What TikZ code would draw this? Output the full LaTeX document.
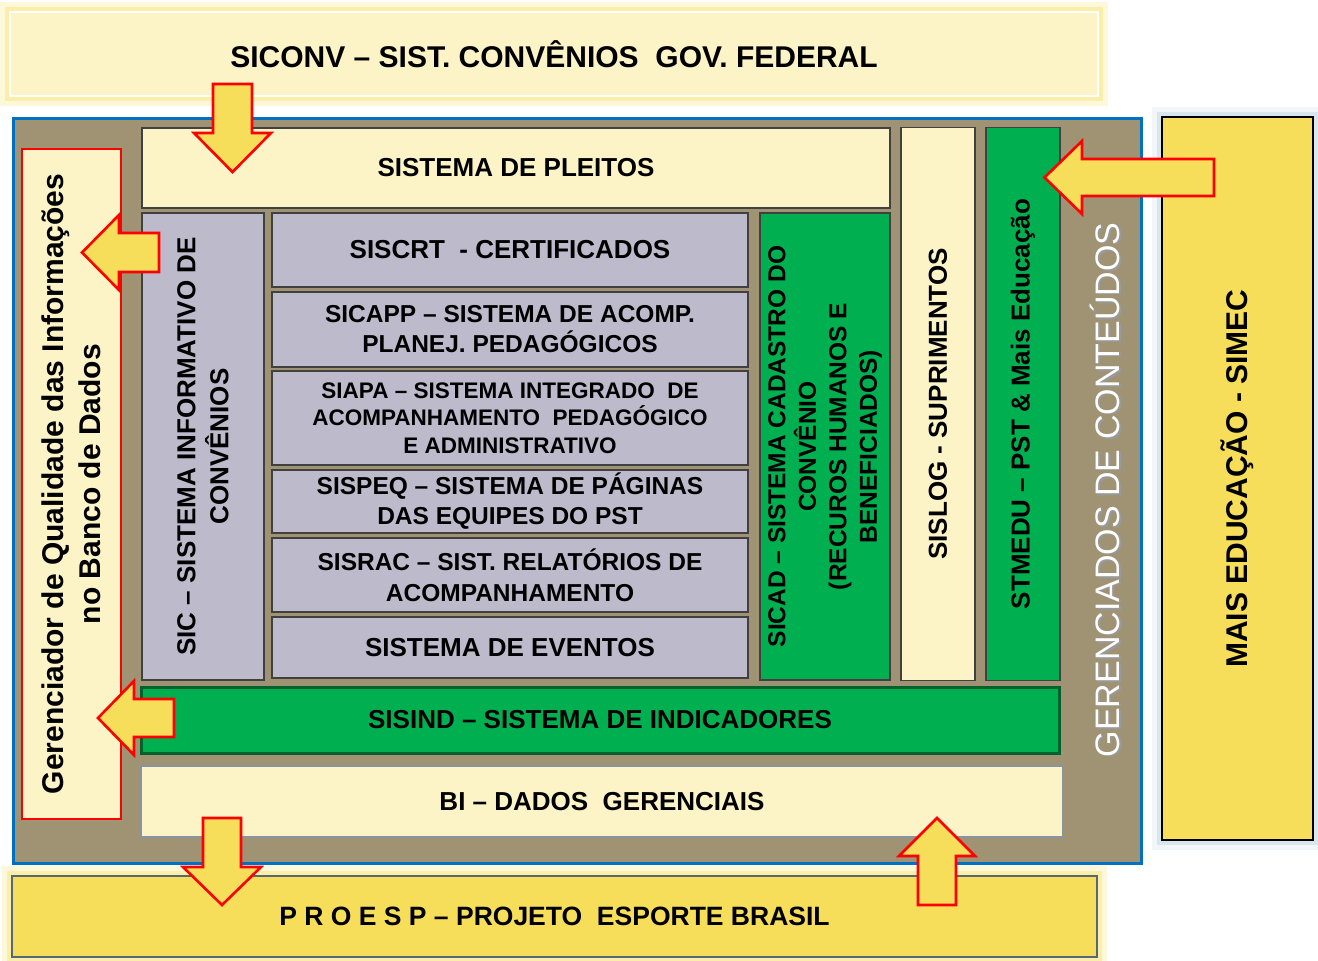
\documentclass[tikz,border=0pt]{standalone}
\usepackage{fontspec}
\setmainfont{Liberation Sans}
\usepackage{xcolor}
\definecolor{paleyellow}{RGB}{252, 243, 198}
\definecolor{gold}{RGB}{246, 222, 90}
\definecolor{lavender}{RGB}{188, 186, 203}
\definecolor{tan}{RGB}{160, 147, 116}
\definecolor{grass}{RGB}{0, 176, 80}
\definecolor{frameblue}{RGB}{0, 112, 192}
\definecolor{arrowred}{RGB}{255, 0, 0}
\definecolor{glowyellow}{RGB}{250, 228, 110}
\definecolor{glowblue}{RGB}{150, 185, 205}
\definecolor{slate}{RGB}{84, 104, 122}
\usetikzlibrary{positioning}
\tikzstyle{box} = [rectangle, draw=black!75, line width=1.3pt, align=center, inner sep=0pt, outer sep=0pt, font=\fontsize{26}{30}\selectfont\bfseries]
\tikzstyle{pale} = [box, fill=paleyellow]
\tikzstyle{lilac} = [box, fill=lavender]
\tikzstyle{grassbox} = [box, fill=grass]
\tikzstyle{stack} = [lilac, minimum width=476pt]
\tikzstyle{upright} = [rotate=90]
\tikzstyle{glow} = [preaction={draw=glowyellow, line width=20pt, draw opacity=0.25}, preaction={draw=glowyellow, line width=10pt, draw opacity=0.45}]
\tikzstyle{bigarrow} = [draw=arrowred, line width=2.6pt, fill=gold, line join=miter]

\begin{document}
\begin{tikzpicture}[x=1pt, y=-1pt]
    \useasboundingbox[fill=white] (0,0) rectangle (1318,961);

    % outer systems
    \node[box, glow, draw=white, line width=2.5pt, fill=paleyellow, minimum width=1088pt, minimum height=84pt, anchor=north west, font=\fontsize{30}{34}\selectfont\bfseries] (siconv) at (10,12) {SICONV -- SIST. CONVÊNIOS\ \ GOV. FEDERAL};
    \node[box, glow, draw=slate, line width=2.8pt, fill=gold, minimum width=1085pt, minimum height=81pt, anchor=north west, font=\fontsize{26.5}{30}\selectfont\bfseries] (proesp) at (12,876) {P R O E S P -- PROJETO\ \ ESPORTE BRASIL};
    \node[box, upright, draw=black, line width=1.5pt, fill=gold, minimum width=723pt, minimum height=151pt, font=\fontsize{30}{34}\selectfont\bfseries,
          preaction={draw=glowblue, line width=20pt, draw opacity=0.12}, preaction={draw=glowblue, line width=10pt, draw opacity=0.25}] (simec) at (1237.5,478.5) {MAIS EDUCAÇÃO - SIMEC};

    % main frame
    \node[draw=frameblue, line width=3pt, fill=tan, minimum width=1128pt, minimum height=745pt, anchor=north west, inner sep=0pt] (frame) at (12,117) {};
    \node[upright, text=black!40, font=\fontsize{34}{38}\selectfont] (conteudoshadow) at (1106.5,491.5) {GERENCIADOS DE CONTEÚDOS};
    \node[upright, text=white, font=\fontsize{34}{38}\selectfont] (conteudos) at (1105,490) {GERENCIADOS DE CONTEÚDOS};

    \node[pale, upright, draw=arrowred, line width=2pt, minimum width=670pt, minimum height=99pt, font=\fontsize{30}{37}\selectfont\bfseries] (qualidade) at (71.5,484) {Gerenciador de Qualidade das Informações\\no Banco de Dados};

    \node[pale, minimum width=748pt, minimum height=80pt, anchor=north west] (pleitos) at (142,128) {SISTEMA DE PLEITOS};
    \node[lilac, upright, minimum width=467pt, minimum height=122pt, font=\fontsize{26}{33}\selectfont\bfseries] (sic) at (203,446.5) {SIC -- SISTEMA INFORMATIVO DE\\CONVÊNIOS};

    % middle stack
    \node[stack, minimum height=74pt, anchor=north west] (siscrt) at (272,213) {SISCRT\ \ - CERTIFICADOS};
    \node[stack, minimum height=75pt, below=5pt of siscrt, font=\fontsize{24.5}{30}\selectfont\bfseries] (sicapp) {SICAPP -- SISTEMA DE ACOMP.\\PLANEJ. PEDAGÓGICOS};
    \node[stack, minimum height=94pt, below=4pt of sicapp, font=\fontsize{22.5}{27.5}\selectfont\bfseries] (siapa) {SIAPA -- SISTEMA INTEGRADO\ \ DE\\ACOMPANHAMENTO\ \ PEDAGÓGICO\\E ADMINISTRATIVO};
    \node[stack, minimum height=63pt, below=5pt of siapa, font=\fontsize{24.5}{30}\selectfont\bfseries] (sispeq) {SISPEQ -- SISTEMA DE PÁGINAS\\DAS EQUIPES DO PST};
    \node[stack, minimum height=74pt, below=5pt of sispeq, font=\fontsize{24.5}{31}\selectfont\bfseries] (sisrac) {SISRAC -- SIST. RELATÓRIOS DE\\ACOMPANHAMENTO};
    \node[stack, minimum height=61pt, below=5pt of sisrac] (eventos) {SISTEMA DE EVENTOS};

    % vertical systems
    \node[grassbox, upright, minimum width=467pt, minimum height=130pt, font=\fontsize{24.5}{30.5}\selectfont\bfseries] (sicad) at (825,446.5) {SICAD -- SISTEMA CADASTRO DO\\CONVÊNIO\\(RECUROS HUMANOS E\\BENEFICIADOS)};
    \node[pale, upright, minimum width=553pt, minimum height=74pt] (sislog) at (938,404) {SISLOG - SUPRIMENTOS};
    \node[grassbox, upright, minimum width=553pt, minimum height=74pt] (stmedu) at (1023,404) {STMEDU -- PST \& Mais Educação};

    % bottom bars
    \node[grassbox, draw=grass!55!black, line width=3pt, minimum width=918pt, minimum height=66pt] (sisind) at (600,720) {SISIND -- SISTEMA DE INDICADORES};
    \node[pale, draw=slate!70, line width=1.5pt, minimum width=922pt, minimum height=71pt] (bi) at (602,801.5) {BI -- DADOS\ \ GERENCIAIS};

    % block arrows
    \draw[bigarrow] (213,84) -- (252,84) -- (252,133) -- (271,133) -- (232.5,172) -- (194,133) -- (213,133) -- cycle;
    \draw[bigarrow] (159,233) -- (119,233) -- (119,215) -- (82,252.5) -- (119,290) -- (119,272) -- (159,272) -- cycle;
    \draw[bigarrow] (1214,159) -- (1082,159) -- (1082,141) -- (1044.5,177.5) -- (1082,214) -- (1082,196) -- (1214,196) -- cycle;
    \draw[bigarrow] (174,699) -- (134,699) -- (134,681) -- (98,718) -- (134,755) -- (134,737) -- (174,737) -- cycle;
    \draw[bigarrow] (203,818) -- (241,818) -- (241,867) -- (261,867) -- (222,905) -- (183,867) -- (203,867) -- cycle;
    \draw[bigarrow] (918,905) -- (956,905) -- (956,856) -- (975,856) -- (937,818) -- (899,856) -- (918,856) -- cycle;
\end{tikzpicture}
\end{document}
